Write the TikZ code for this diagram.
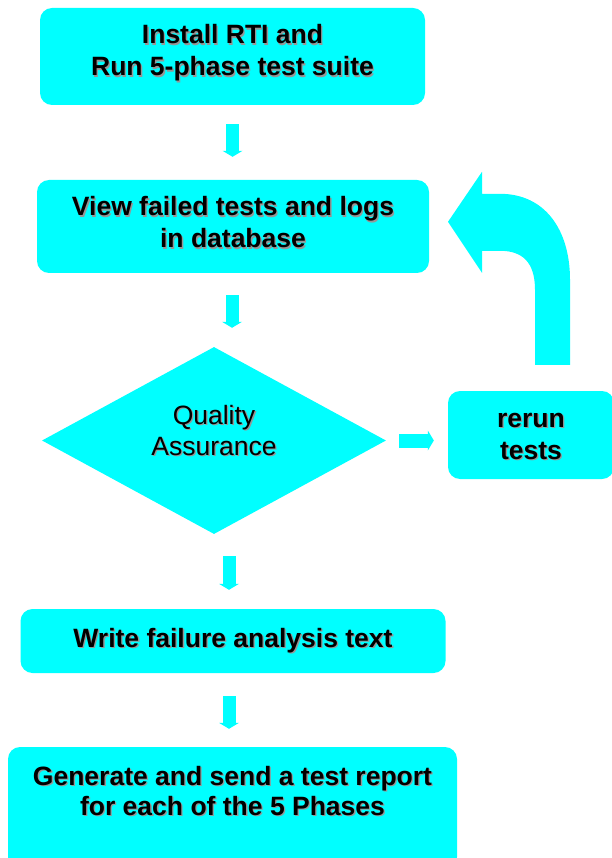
\documentclass[tikz,border=0pt]{standalone}
\usepackage{fontspec}
\setmainfont{Liberation Sans}
\usetikzlibrary{shapes.geometric,arrows.meta}
\definecolor{qcyan}{RGB}{0,255,255}
\definecolor{shgray}{RGB}{150,150,150}
\newcommand{\shadowed}[1]{\rlap{\hspace{1.3pt}\raisebox{-1.3pt}{\textcolor{shgray}{#1}}}#1}
% two shadowed lines, first baseline #1 above the node centre
\newcommand{\twolines}[3]{\raisebox{#1}[0pt][0pt]{%
  \begin{tabular}[t]{@{}c@{}}\shadowed{#2}\\\shadowed{#3}\end{tabular}}}
\tikzset{
  stepbox/.style = {fill=qcyan, rounded corners=12pt, inner sep=0pt,
                    align=center, font=\bfseries\fontsize{26.5}{32}\selectfont},
  flow/.style    = {draw=qcyan, line width=13pt,
                    -{Triangle[width=20pt,length=6pt,line width=0pt]}}
}
\begin{document}
\begin{tikzpicture}[x=1pt, y=-1pt]
\useasboundingbox (0,0) rectangle (611,858);
\tikzstyle{every node}=[stepbox]
\node(inst)  [minimum width=385pt, minimum height=97pt]  at (232.5, 56.5)
  {\twolines{12.5pt}{Install RTI and}{Run 5-phase test suite}};
\node(view)  [minimum width=392pt, minimum height=93pt]  at (233, 226.5)
  {\twolines{10.5pt}{View failed tests and logs}{in database}};
\node(qa)    [diamond, rounded corners=0pt, minimum width=344pt, minimum height=187pt,
              font=\fontsize{26.5}{31}\selectfont] at (214, 440.5)
  {\twolines{16.5pt}{Quality}{Assurance}};
\node(rerun) [minimum width=166pt, minimum height=88pt]  at (531, 435)
  {\twolines{8pt}{rerun}{tests}};
\node(write) [minimum width=425pt, minimum height=64pt]  at (233, 641)
  {\shadowed{Write failure analysis text}};
\node(gen)   [minimum width=449pt, minimum height=122pt,
              font=\bfseries\fontsize{26.5}{30.5}\selectfont] at (232.5, 808)
  {\twolines{23pt}{Generate and send a test report}{for each of the 5 Phases}};

\draw[flow, shorten <=19pt, shorten >=23pt] (inst.south) -- (inst.south |- view.north);
\draw[flow, shorten <=22pt, shorten >=19pt] ([xshift=-1pt]view.south) -- ([xshift=-1pt]view.south |- qa.north);
\draw[flow, shorten <=22pt, shorten >=19pt] ([xshift=-4pt]write.north |- qa.south) -- ([xshift=-4pt]write.north);
\draw[flow, shorten <=23pt, shorten >=18pt] ([xshift=-4pt]write.south) -- ([xshift=-4pt]write.south |- gen.north);
\draw[flow, line width=14pt, shorten <=13pt, shorten >=14pt] (qa.east) -- (qa.east -| rerun.west);

% bent arrow back to the database box
\coordinate (ub) at ([xshift=21.5pt, yshift=26pt]rerun.north);
\begin{scope}[shift={(ub)}]
\fill[qcyan] (-17.5,0) -- (-17.5,-75) .. controls (-17.5,-103) and (-30.5,-114) .. (-52.5,-114)
  -- (-70.5,-114) -- (-70.5,-92) -- (-104.5,-143) -- (-70.5,-193) -- (-70.5,-171) -- (-52.5,-171)
  .. controls (-7.5,-171) and (17.5,-135) .. (17.5,-85) -- (17.5,0) -- cycle;
\end{scope}

\end{tikzpicture}
\end{document}
